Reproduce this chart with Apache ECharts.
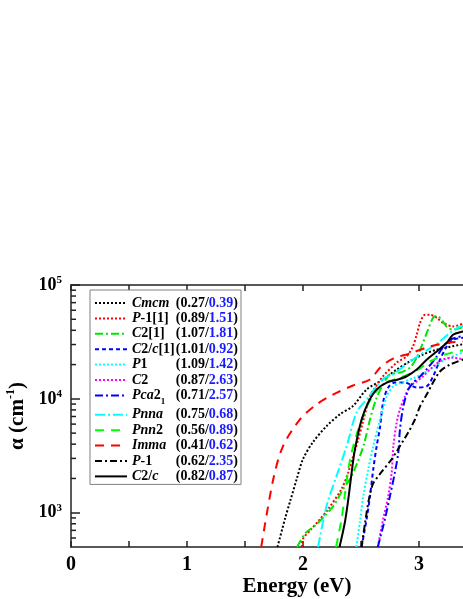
<!DOCTYPE html>
<html>
<head>
<meta charset="utf-8">
<script src="https://cdn.jsdelivr.net/npm/echarts@6/dist/echarts.min.js"></script>
<style>
html,body{margin:0;padding:0;background:#fff}
#chart{width:463px;height:599px}
</style>
</head>
<body>
<div id="chart"></div>
<script>
// legend entries (series names), band gaps: first value / second value (blue)
var names = ['Cmcm', 'P-1[1]', 'C2[1]', 'C2/c[1]', 'P1', 'C2', 'Pca21', 'Pnna', 'Pnn2', 'Imma', 'P-1', 'C2/c'];
var gapA = ['0.27', '0.89', '1.07', '1.01', '1.09', '0.87', '0.71', '0.75', '0.56', '0.41', '0.62', '0.82'];
var gapB = ['0.39', '1.51', '1.81', '0.92', '1.42', '2.63', '2.57', '0.68', '0.89', '0.62', '2.35', '0.87'];

// [energy (eV), alpha (cm^-1)]
var cmcm = [[1.78, 500], [1.845, 887], [1.888, 1250], [1.946, 1980], [2.0, 2960], [2.086, 4170], [2.204, 5780], [2.319, 7330], [2.431, 8650], [2.549, 12100], [2.69, 14800], [2.808, 18100], [2.922, 21400], [3.034, 24500], [3.153, 27000], [3.4, 30500]];
var p1_1 = [[1.99, 500], [2.0, 590], [2.075, 724], [2.147, 880], [2.218, 1080], [2.333, 1620], [2.391, 2280], [2.434, 3160], [2.477, 4430], [2.515, 6170], [2.578, 10600], [2.63, 12900], [2.69, 15800], [2.808, 20800], [2.894, 23700], [2.948, 28900], [2.98, 36600], [3.009, 46600], [3.052, 54700], [3.095, 54700], [3.153, 51500], [3.207, 46600], [3.293, 43300], [3.4, 46600]];
var c2_1 = [[1.95, 500], [2.017, 656], [2.103, 769], [2.19, 942], [2.276, 1200], [2.336, 1556], [2.405, 1980], [2.474, 2840], [2.526, 4010], [2.578, 6620], [2.63, 9910], [2.69, 13400], [2.75, 16400], [2.836, 17000], [2.922, 18800], [2.98, 23000], [3.034, 31100], [3.078, 40500], [3.121, 51500], [3.153, 53600], [3.196, 49400], [3.239, 43000], [3.293, 40500], [3.4, 43500]];
var c2c_1 = [[2.505, 500], [2.549, 887], [2.578, 1406], [2.606, 2420], [2.635, 3850], [2.664, 5640], [2.692, 9510], [2.735, 12600], [2.793, 13900], [2.879, 13900], [2.98, 12600], [3.066, 12900], [3.121, 15700], [3.181, 22100], [3.239, 28800], [3.293, 33100], [3.4, 34500]];
var p1 = [[2.46, 500], [2.491, 834], [2.52, 1406], [2.563, 2420], [2.606, 3850], [2.664, 6620], [2.722, 10500], [2.779, 12900], [2.851, 13900], [2.966, 15400], [3.095, 18100], [3.224, 22100], [3.4, 26000]];
var c2 = [[2.645, 500], [2.692, 887], [2.735, 1406], [2.765, 2280], [2.779, 3850], [2.808, 6240], [2.836, 8090], [2.879, 10500], [2.922, 12900], [2.98, 14200], [3.034, 15700], [3.121, 19200], [3.207, 22100], [3.293, 23000], [3.4, 22000]];
var pca21 = [[2.645, 500], [2.707, 887], [2.75, 1406], [2.793, 2280], [2.822, 3410], [2.836, 5410], [2.865, 8590], [2.908, 12100], [2.951, 13900], [3.009, 15700], [3.078, 18800], [3.153, 23500], [3.21, 28800], [3.267, 33100], [3.4, 35900]];
var pnna = [[2.13, 500], [2.204, 1156], [2.29, 2110], [2.377, 3860], [2.463, 7620], [2.563, 10300], [2.635, 12900], [2.707, 15400], [2.776, 16400], [2.922, 21300], [3.164, 31100], [3.267, 38100], [3.353, 43000], [3.4, 44000]];
var pnn2 = [[2.285, 500], [2.333, 887], [2.362, 1466], [2.391, 2420], [2.422, 3470], [2.463, 4900], [2.509, 6620], [2.56, 8950], [2.63, 11600], [2.716, 13900], [2.836, 15400], [2.966, 17400], [3.095, 21300], [3.224, 24500], [3.4, 27000]];
var imma = [[1.64, 500], [1.744, 1980], [1.828, 3850], [1.974, 6600], [2.118, 8950], [2.259, 10900], [2.431, 13100], [2.578, 14800], [2.664, 18800], [2.776, 22600], [2.922, 25000], [3.095, 28900], [3.267, 31300], [3.4, 32000]];
var p_1 = [[2.505, 500], [2.534, 802], [2.569, 1324], [2.603, 1790], [2.664, 2190], [2.765, 2960], [2.836, 3850], [2.908, 5090], [2.966, 6620], [3.009, 8590], [3.066, 10900], [3.121, 13900], [3.181, 17400], [3.267, 20000], [3.4, 22500]];
var c2c = [[2.315, 500], [2.362, 834], [2.391, 1324], [2.42, 2280], [2.448, 3620], [2.506, 6620], [2.563, 9310], [2.635, 12100], [2.722, 13900], [2.819, 14800], [2.894, 15800], [2.98, 18100], [3.066, 22100], [3.153, 26100], [3.239, 31100], [3.293, 36600], [3.379, 39100], [3.4, 39500]];
var curves = [cmcm, p1_1, c2_1, c2c_1, p1, c2, pca21, pnna, pnn2, imma, p_1, c2c];

// minor ticks of the log axis
var yMinor = [600, 700, 800, 900, 2000, 3000, 4000, 5000, 6000, 7000, 8000, 9000,
  20000, 30000, 40000, 50000, 60000, 70000, 80000, 90000];

var colors = ['#000000', '#ff0000', '#00e600', '#0000ff', '#00ffff', '#ff00ff', '#0000ff', '#00ffff', '#00ff00', '#ff0000', '#000000', '#000000'];
var dashes = [[2, 2], [2, 2], [8, 3, 2, 3], [4, 3], [2, 2], [2, 2], [8, 3, 2, 3], [10, 3, 2, 3], [9, 7], [9, 7], [7, 3, 2, 3], 'solid'];

// italic / normal pieces of the space group names
var nameParts = {
  'Cmcm': [['i', 'Cmcm']],
  'P-1[1]': [['i', 'P'], ['n', '-1[1]']],
  'C2[1]': [['i', 'C'], ['n', '2[1]']],
  'C2/c[1]': [['i', 'C'], ['n', '2/'], ['i', 'c'], ['n', '[1]']],
  'P1': [['i', 'P'], ['n', '1']],
  'C2': [['i', 'C'], ['n', '2']],
  'Pca21': [['i', 'Pca'], ['n', '2'], ['sub', '1']],
  'Pnna': [['i', 'Pnna']],
  'Pnn2': [['i', 'Pnn'], ['n', '2']],
  'Imma': [['i', 'Imma']],
  'P-1': [['i', 'P'], ['n', '-1']],
  'C2/c': [['i', 'C'], ['n', '2/'], ['i', 'c']]
};

var serif = '"Liberation Serif", "Times New Roman", serif';
var fonts = {
  i: 'italic bold 14px ' + serif,
  n: 'bold 14px ' + serif,
  b: 'bold 14px ' + serif,
  sub: 'bold 9px ' + serif
};
var ctx = document.createElement('canvas').getContext('2d');
function textW(style, s) { ctx.font = fonts[style]; return ctx.measureText(s).width; }

var legendWidth = 106;
var rich = {
  i: { fontFamily: serif, fontWeight: 'bold', fontStyle: 'italic', fontSize: 14, color: '#000', lineHeight: 16 },
  n: { fontFamily: serif, fontWeight: 'bold', fontSize: 14, color: '#000', lineHeight: 16 },
  b: { fontFamily: serif, fontWeight: 'bold', fontSize: 14, color: '#1a1aff', lineHeight: 16 },
  sub: { fontFamily: serif, fontWeight: 'bold', fontSize: 9, color: '#000', lineHeight: 22, verticalAlign: 'bottom' }
};
var legendText = {};
names.forEach(function (nm, k) {
  var parts = nameParts[nm].concat([['sp' + k, ' '], ['n', '(' + gapA[k] + '/'], ['b', gapB[k]], ['n', ')']]);
  var used = 0;
  parts.forEach(function (p) { if (p[0].indexOf('sp') !== 0) used += textW(p[0], p[1]); });
  rich['sp' + k] = { width: Math.max(0, legendWidth - used), fontSize: 14, lineHeight: 16 };
  legendText[nm] = parts.map(function (p) { return '{' + p[0] + '|' + p[1] + '}'; }).join('');
});

var series = names.map(function (nm, k) {
  return {
    name: nm,
    type: 'line',
    data: curves[k],
    symbol: 'none',
    smooth: 0.3,
    lineStyle: { color: colors[k], width: 2, type: dashes[k] },
    itemStyle: { color: colors[k] },
    z: 3
  };
});
series.push({
  type: 'custom',
  silent: true,
  data: yMinor.map(function (v) { return [0, v]; }),
  renderItem: function (params, api) {
    var p = api.coord([api.value(0), api.value(1)]);
    return { type: 'line', shape: { x1: p[0], y1: p[1], x2: p[0] + 5, y2: p[1] }, style: { stroke: '#222', lineWidth: 1.5 } };
  },
  z: 4
});

var axisFont = { fontFamily: serif, fontWeight: 'bold', color: '#000' };
var xTicks = {
  type: 'value', min: 0, max: 4, interval: 0.5,
  axisLine: { lineStyle: { color: '#222', width: 1.5 } },
  axisTick: { inside: true, length: 6, lineStyle: { color: '#222', width: 1.5 } },
  splitLine: { show: false }
};

var myChart = echarts.init(document.getElementById('chart'));
var option = {
  animation: false,
  backgroundColor: '#fff',
  grid: { left: 71, top: 285, width: 464, bottom: 52, outerBoundsMode: 'none', containLabel: false },
  legend: {
    data: names,
    orient: 'vertical',
    left: 90,
    top: 290,
    itemWidth: 32,
    itemHeight: 10,
    itemGap: 1.4,
    padding: [6, 3, 1, 4],
    borderColor: '#808080',
    borderWidth: 1,
    backgroundColor: '#fff',
    selectedMode: false,
    itemStyle: { opacity: 0 },
    textStyle: { rich: rich },
    formatter: function (nm) { return legendText[nm]; }
  },
  xAxis: [
    Object.assign({}, xTicks, {
      position: 'bottom',
      name: 'Energy (eV)',
      nameLocation: 'middle',
      nameGap: 27,
      nameTextStyle: Object.assign({ fontSize: 21, padding: [0, 12, 0, 0] }, axisFont),
      axisLabel: Object.assign({
        fontSize: 20, margin: 8,
        formatter: function (v) { return v % 1 === 0 ? String(v) : ''; }
      }, axisFont)
    }),
    Object.assign({}, xTicks, { position: 'top', axisLabel: { show: false } })
  ],
  yAxis: {
    type: 'log',
    logBase: 10,
    min: 500,
    max: 100000,
    name: '{a|α (cm}{s|-1}{a|)}',
    nameLocation: 'middle',
    nameGap: 40,
    nameTextStyle: {
      rich: {
        a: Object.assign({ fontSize: 21, lineHeight: 24 }, axisFont),
        s: Object.assign({ fontSize: 12, lineHeight: 24, verticalAlign: 'top' }, axisFont)
      }
    },
    axisLine: { show: true, lineStyle: { color: '#222', width: 1.5 } },
    axisTick: { inside: true, length: 9, lineStyle: { color: '#222', width: 1.5 } },
    splitLine: { show: false },
    axisLabel: {
      margin: 9,
      showMinLabel: false,
      formatter: function (v) { return '{a|10}{s|' + Math.round(Math.log10(v)) + '}'; },
      rich: {
        a: Object.assign({ fontSize: 18, lineHeight: 20 }, axisFont),
        s: Object.assign({ fontSize: 11, lineHeight: 20, verticalAlign: 'top' }, axisFont)
      }
    }
  },
  series: series
};
myChart.setOption(option);
</script>
</body>
</html>
